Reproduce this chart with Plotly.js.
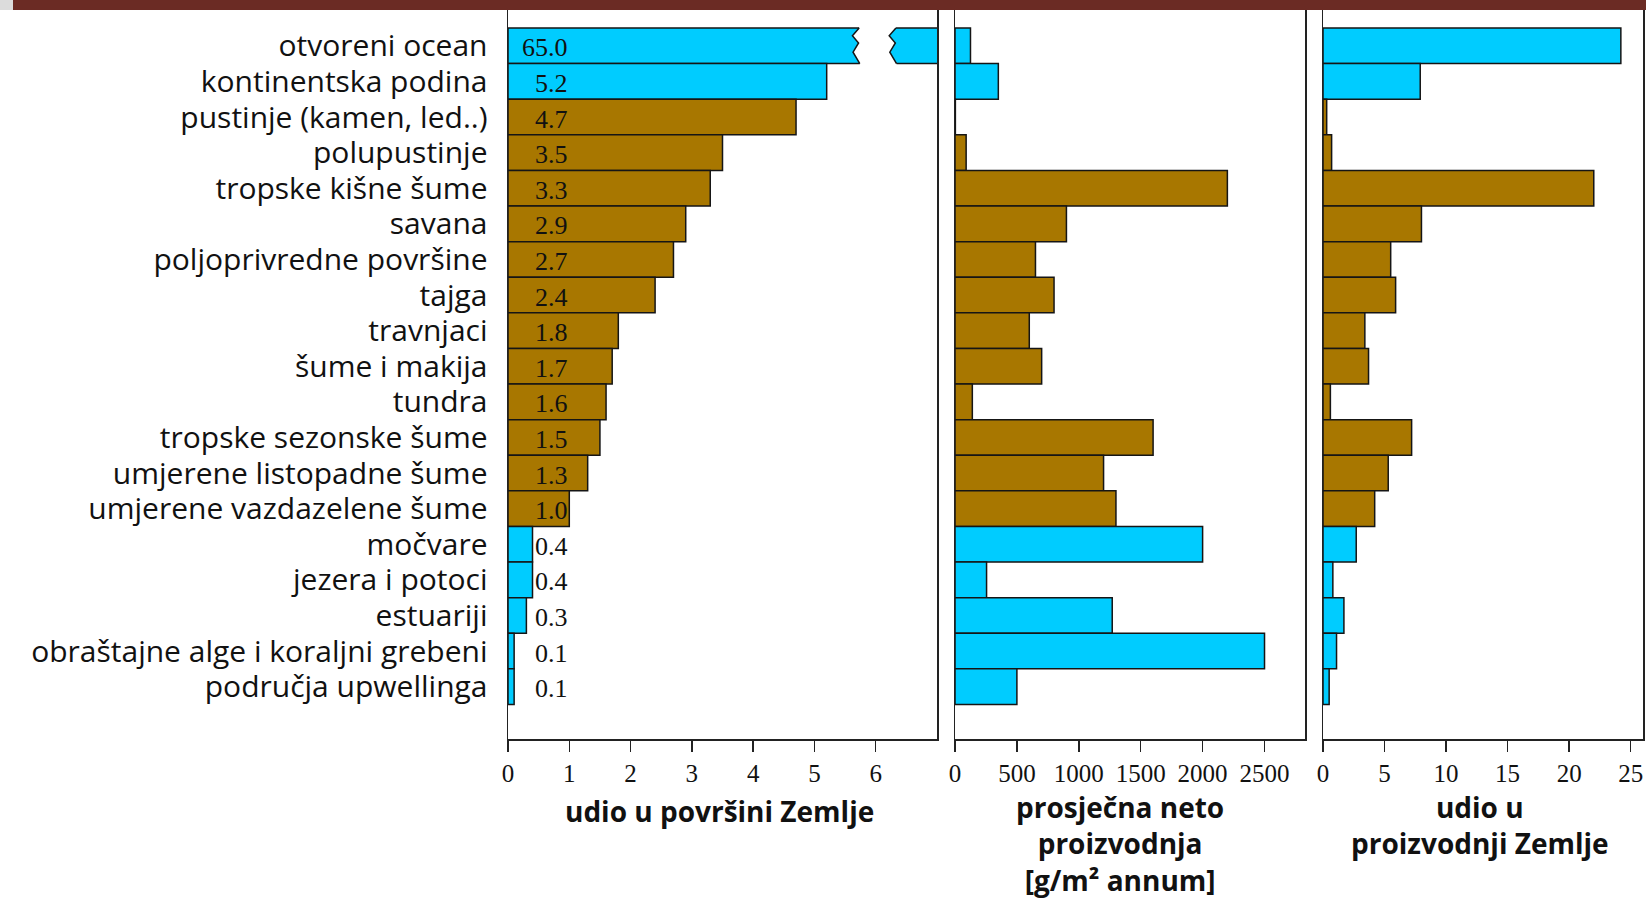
<!DOCTYPE html>
<html>
<head>
<meta charset="utf-8">
<script src="https://cdn.plot.ly/plotly-3.0.1.min.js"></script>
<style>html,body{margin:0;padding:0;background:#fff;}#chart{width:1646px;height:899px;}</style>
</head>
<body>
<div id="chart"></div>
<script>
const categories = [
  'otvoreni ocean', 'kontinentska podina', 'pustinje (kamen, led..)', 'polupustinje',
  'tropske kišne šume', 'savana', 'poljoprivredne površine', 'tajga', 'travnjaci',
  'šume i makija', 'tundra', 'tropske sezonske šume', 'umjerene listopadne šume',
  'umjerene vazdazelene šume', 'močvare', 'jezera i potoci', 'estuariji',
  'obraštajne alge i koraljni grebeni', 'područja upwellinga'
];
const habitat = ['voda','voda','kopno','kopno','kopno','kopno','kopno','kopno','kopno',
  'kopno','kopno','kopno','kopno','kopno','voda','voda','voda','voda','voda'];
const surfaceShare = [65.0, 5.2, 4.7, 3.5, 3.3, 2.9, 2.7, 2.4, 1.8, 1.7, 1.6, 1.5, 1.3, 1.0, 0.4, 0.4, 0.3, 0.1, 0.1];
const netProduction = [125, 350, 3, 90, 2200, 900, 650, 800, 600, 700, 140, 1600, 1200, 1300, 2000, 255, 1270, 2500, 500];
const productionShare = [24.2, 7.9, 0.3, 0.7, 22.0, 8.0, 5.5, 5.9, 3.4, 3.7, 0.6, 7.2, 5.3, 4.2, 2.7, 0.8, 1.7, 1.1, 0.5];
const ticks1 = [0, 1, 2, 3, 4, 5, 6];
const ticks2 = [0, 500, 1000, 1500, 2000, 2500];
const ticks3 = [0, 5, 10, 15, 20, 25];
const titles = ['udio u površini Zemlje', 'prosječna neto<br>proizvodnja<br>[g/m² annum]', 'udio u<br>proizvodnji Zemlje'];

const pos = categories.map((_, i) => i);
const colorMap = {voda: '#00CCFF', kopno: '#A87700'};
const colors = habitat.map(h => colorMap[h]);
const outline = {color: '#151515', width: 1.5};

const W = 1646, H = 899;
const yDom = [(H - 739) / H, (H - 10) / H];
const yRange = [19.47, -1.006];

function barTrace(vals, xa, ya) {
  return {type: 'bar', orientation: 'h', x: vals, y: pos, xaxis: xa, yaxis: ya,
    marker: {color: colors, line: outline}, hoverinfo: 'x'};
}

const data = [
  barTrace(surfaceShare, 'x', 'y'),
  barTrace(netProduction, 'x2', 'y2'),
  barTrace(productionShare, 'x3', 'y3')
];

const xCommon = {
  showline: true, linecolor: '#222', linewidth: 1.5, ticks: 'outside', ticklen: 11,
  tickwidth: 1.5, tickcolor: '#222', showgrid: false, zeroline: false, fixedrange: true,
  tickfont: {family: 'Liberation Serif', size: 25, color: '#111'}, automargin: false
};
const yCommon = {
  domain: yDom, range: yRange, showline: true, mirror: true, linecolor: '#222', linewidth: 1.5,
  showgrid: false, zeroline: false, ticks: '', fixedrange: true, automargin: false
};

// axis-break marks on the first bar
const bL = 5.73, bR = 6.33, tooth = 0.11;
const leftEdge = [[bL, -0.5], [bL - tooth, -0.28], [bL - 0.01, -0.08], [bL - tooth + 0.01, 0.18], [bL + 0.01, 0.5]];
const rightEdge = [[bR, -0.5], [bR - tooth, -0.28], [bR - 0.01, -0.08], [bR - tooth + 0.01, 0.18], [bR + 0.01, 0.5]];
const toPath = pts => pts.map((p, i) => (i ? 'L' : 'M') + p[0] + ',' + p[1]).join(' ');
const fillPath = 'M' + bL + ',-0.56 ' + toPath(leftEdge).replace('M', 'L') + ' L' + (bL + 0.01) + ',0.56 L' + (bR + 0.01) + ',0.56 ' +
  toPath(rightEdge.slice().reverse()).replace('M', 'L') + ' L' + bR + ',-0.56 Z';

const titleFont = {family: 'Open Sans', size: 28, color: '#111', weight: 700};

// value labels inside the first panel
const valueLabels = surfaceShare.map((v, i) => ({
  text: v.toFixed(1), xref: 'x', yref: 'y', x: 0.97, y: pos[i], xanchor: 'right', yanchor: 'middle',
  xshift: 3, yshift: -2, showarrow: false, font: {family: 'Liberation Serif', size: 26, color: '#111'}
}));

const layout = {
  width: W, height: H, margin: {l: 0, r: 0, t: 0, b: 0},
  paper_bgcolor: '#fff', plot_bgcolor: '#fff', showlegend: false, bargap: 0,
  font: {family: 'Open Sans', color: '#111'},
  xaxis: Object.assign({}, xCommon, {domain: [508 / W, 937 / W], range: [0, 7], tickvals: ticks1, anchor: 'y'}),
  yaxis: Object.assign({}, yCommon, {anchor: 'x', tickvals: pos, ticktext: categories,
    tickfont: {family: 'Open Sans', size: 30, color: '#111'}, ticklabelstandoff: 13}),
  xaxis2: Object.assign({}, xCommon, {domain: [955 / W, 1305 / W], range: [0, 2827], tickvals: ticks2, anchor: 'y2'}),
  yaxis2: Object.assign({}, yCommon, {anchor: 'x2', showticklabels: false}),
  xaxis3: Object.assign({}, xCommon, {domain: [1323 / W, 1643 / W], range: [0, 26.0], tickvals: ticks3, anchor: 'y3'}),
  yaxis3: Object.assign({}, yCommon, {anchor: 'x3', showticklabels: false}),
  shapes: [
    {type: 'rect', xref: 'paper', yref: 'paper', x0: 13 / W, x1: 1, y0: (H - 10) / H, y1: 1,
     fillcolor: '#6B2B24', line: {width: 0}, layer: 'above'},
    {type: 'rect', xref: 'paper', yref: 'paper', x0: 0, x1: 13 / W, y0: (H - 10) / H, y1: 1,
     fillcolor: '#dcdcdc', line: {width: 0}, layer: 'above'},
    {type: 'path', xref: 'x', yref: 'y', path: fillPath, fillcolor: '#fff', line: {width: 0}, layer: 'above'},
    {type: 'path', xref: 'x', yref: 'y', path: toPath(leftEdge), line: {color: '#151515', width: 1.5}, layer: 'above'},
    {type: 'path', xref: 'x', yref: 'y', path: toPath(rightEdge), line: {color: '#151515', width: 1.5}, layer: 'above'}
  ],
  annotations: valueLabels.concat([
    {text: titles[0], xref: 'paper', yref: 'paper', x: 719 / W, y: (H - 790) / H,
     xanchor: 'center', yanchor: 'top', showarrow: false, font: titleFont},
    {text: titles[1], xref: 'paper', yref: 'paper', x: 1120 / W, y: (H - 786) / H,
     xanchor: 'center', yanchor: 'top', showarrow: false, font: titleFont},
    {text: titles[2], xref: 'paper', yref: 'paper', x: 1480 / W, y: (H - 786) / H,
     xanchor: 'center', yanchor: 'top', showarrow: false, font: titleFont}
  ])
};

Plotly.newPlot('chart', data, layout, {displayModeBar: false, staticPlot: true});
</script>
</body>
</html>
